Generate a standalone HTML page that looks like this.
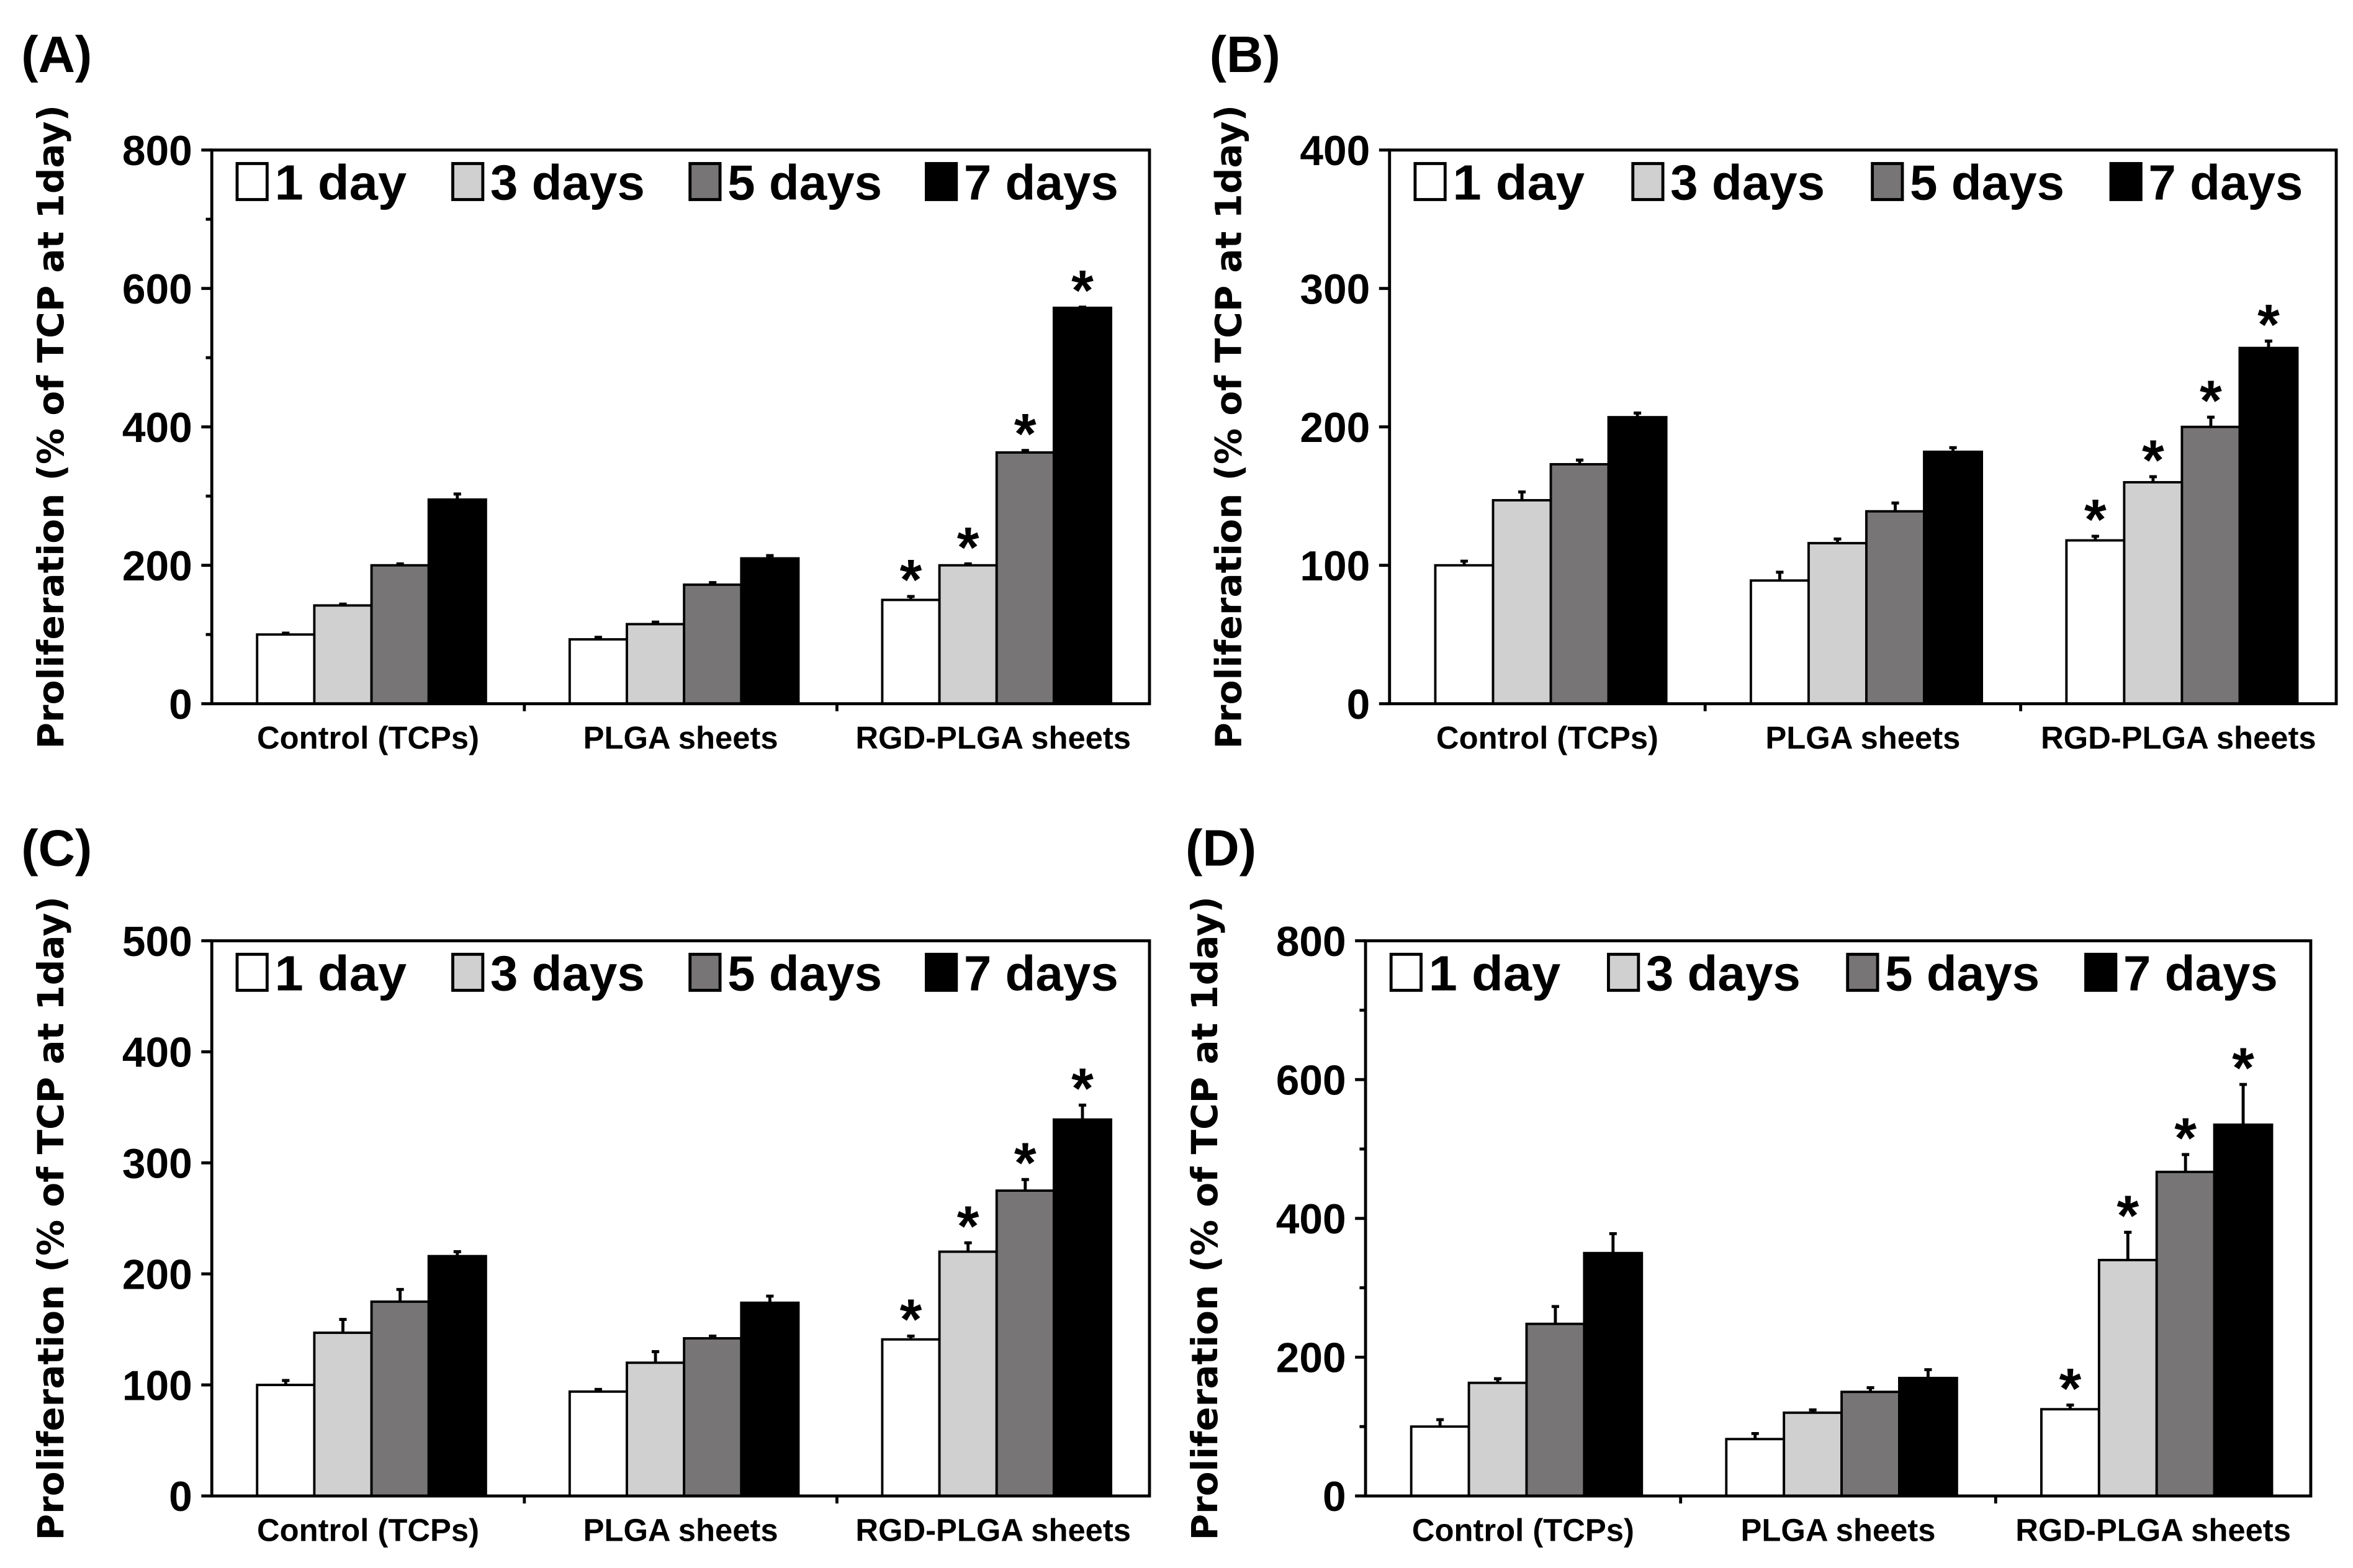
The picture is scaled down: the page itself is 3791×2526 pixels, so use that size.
<!DOCTYPE html>
<html><head><meta charset="utf-8">
<style>
html,body{margin:0;padding:0;background:#fff;}
svg{display:block;}
.t{font-family:"Liberation Sans Narrow","Liberation Sans",sans-serif;font-weight:bold;fill:#000;}
.yt{font-family:"DejaVu Sans","Liberation Sans",sans-serif;font-weight:bold;fill:#000;}
</style></head>
<body>
<svg id="fig" width="3791" height="2526" viewBox="0 0 1568 1045" xmlns="http://www.w3.org/2000/svg"></svg>
<script>
const categories = ["Control (TCPs)", "PLGA sheets", "RGD-PLGA sheets"];
const seriesNames = ["1 day", "3 days", "5 days", "7 days"];
const seriesColors = ["#ffffff", "#d0d0d0", "#777575", "#000000"];

const valuesA = [[100,142,200,295],[93,115,172,210],[150,200,363,572]];
const errorsA = [[2,2,2,8],[3,3,3,4],[5,2,3,1]];
const valuesB = [[100,147,173,207],[89,116,139,182],[118,160,200,257]];
const errorsB = [[3,6,3,3],[6,3,6,3],[3,4,7,5]];
const valuesC = [[100,147,175,216],[94,120,142,174],[141,220,275,339]];
const errorsC = [[4,12,11,4],[2,10,2,6],[3,8,10,13]];
const valuesD = [[100,163,248,350],[82,120,150,170],[125,340,467,535]];
const errorsD = [[10,6,25,28],[8,4,6,12],[6,40,25,58]];
const starsGroup = 2;

const ticksA = [0,200,400,600,800];
const ticksB = [0,100,200,300,400];
const ticksC = [0,100,200,300,400,500];
const ticksD = [0,200,400,600,800];

const NS = "http://www.w3.org/2000/svg";
const svg = document.getElementById("fig");
function el(tag, attrs, parent){
  const e = document.createElementNS(NS, tag);
  for (const k in attrs) e.setAttribute(k, attrs[k]);
  (parent||svg).appendChild(e);
  return e;
}

function panel(id, letter, lx, ly, L, T, R, B, ymax, ticks, minor, values, errors){
  const g = el("g", {});
  
  
  const y = v => B - (v / ymax) * (B - T);
  const gw = (R - L) / categories.length;
  const bw = gw * 0.183;
  const off = gw * 0.145;
  const xb = (ci, si) => L + ci * gw + off + si * bw;

  const lab = el("text", {x: lx, y: ly, "font-size": 34, class: "t"}, g);
  lab.textContent = "(" + letter + ")";
  
  

  values.forEach((grp, ci) => grp.forEach((v, si) => {
    const x = xb(ci, si);
    const r = el("rect", {x: x, y: y(v), width: bw, height: B - y(v), fill: seriesColors[si], stroke: "#000", "stroke-width": 1.6}, g);
    
    
    const e = errors[ci][si];
    const cx = x + bw / 2;
    const eb = el("path", {d: `M${cx},${y(v)}V${y(v + e)}M${cx - 2.5},${y(v + e)}H${cx + 2.5}`, stroke: "#000", "stroke-width": 2, fill: "none"}, g);
    
    
    if (ci === starsGroup) {
      const s = el("text", {x: cx, y: y(v + e) + 2, "text-anchor": "middle", "font-size": 38, class: "t"}, g);
      s.textContent = "*";
      
      
    }
  }));

  const fr = el("rect", {x: L, y: T, width: R - L, height: B - T, fill: "none", stroke: "#000", "stroke-width": 2}, g);
  
  

  const step = ticks[1] - ticks[0];
  ticks.forEach(t => {
    el("line", {x1: L - 7, x2: L, y1: y(t), y2: y(t), stroke: "#000", "stroke-width": 2}, g);
    const tl = el("text", {x: L - 13, y: y(t) + 10, "text-anchor": "end", "font-size": 28, class: "t"}, g);
    tl.textContent = t;
    
    
  });
  if (minor) ticks.slice(0, -1).forEach(t => {
    el("line", {x1: L - 4, x2: L, y1: y(t + step / 2), y2: y(t + step / 2), stroke: "#000", "stroke-width": 2}, g);
  });
  for (let i = 1; i < categories.length; i++) {
    el("line", {x1: L + i * gw, x2: L + i * gw, y1: B, y2: B + 5, stroke: "#000", "stroke-width": 2}, g);
  }
  categories.forEach((c, ci) => {
    const xl = el("text", {x: L + ci * gw + gw / 2, y: B + 30, "text-anchor": "middle", "font-size": 21, class: "t"}, g);
    xl.textContent = c;
    
    
  });
  const cy = (T + B) / 2;
  const yt = el("text", {x: 0, y: 0, transform: `translate(${L - 99},${cy}) rotate(-90)`, "text-anchor": "middle", "font-size": 24, class: "yt"}, g);
  yt.textContent = "Proliferation (% of TCP at 1day)";
  
  

  const lxs = [0.027, 0.257, 0.51, 0.762];
  const tw = [88, 103, 103, 103];
  seriesNames.forEach((n, si) => {
    const x0 = L + (R - L) * lxs[si];
    const lg = el("g", {}, g);
    
    
    el("rect", {x: x0, y: T + 9, width: 20, height: 24, fill: seriesColors[si], stroke: "#000", "stroke-width": 2}, lg);
    const lt = el("text", {x: x0 + 25, y: T + 33, "font-size": 33, class: "t", textLength: tw[si], lengthAdjust: "spacingAndGlyphs"}, lg);
    lt.textContent = n;
  });
}

panel("a", "A", 14, 48, 141, 100, 766, 469, 800, ticksA, true, valuesA, errorsA);
panel("b", "B", 806, 48, 926, 100, 1557, 469, 400, ticksB, false, valuesB, errorsB);
panel("c", "C", 14, 577, 141, 627, 766, 997, 500, ticksC, false, valuesC, errorsC);
panel("d", "D", 790, 577, 910, 627, 1540, 997, 800, ticksD, true, valuesD, errorsD);
</script>
</body></html>
